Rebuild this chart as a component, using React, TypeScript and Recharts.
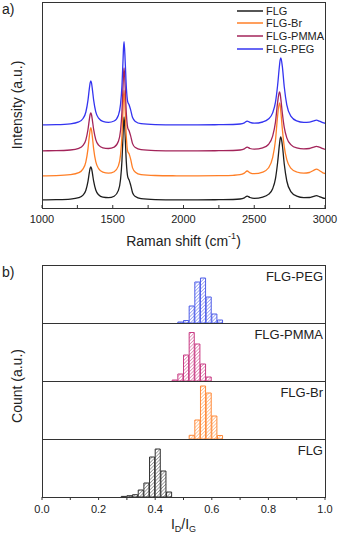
import React from 'react';
import { LineChart, Line, XAxis, YAxis, BarChart, Bar } from 'recharts';

// ---------- Panel a: Raman spectra ----------
const ramanShift = [1000, 1100, 1200, 1260, 1290, 1310, 1325, 1335, 1340, 1345, 1350, 1355, 1365, 1380, 1400, 1430, 1470, 1510, 1540, 1555, 1565, 1572, 1576, 1580, 1588, 1596, 1606, 1616, 1626, 1640, 1660, 1700, 1800, 1950, 2100, 2250, 2350, 2400, 2430, 2450, 2470, 2500, 2560, 2600, 2630, 2650, 2665, 2678, 2683, 2688, 2698, 2712, 2730, 2760, 2800, 2850, 2890, 2920, 2940, 2960, 2985, 3000];

const flgSpectrum = [8.1, 8.3, 8.9, 10.3, 12.9, 17.8, 26.7, 35.8, 39.6, 41.2, 39.6, 35.8, 26.8, 18.0, 13.2, 10.8, 10.3, 11.8, 17.6, 28.5, 47.0, 70.4, 84.5, 91.2, 71.1, 45.7, 31.1, 27.9, 23.3, 15.3, 11.4, 9.3, 8.4, 8.1, 8.1, 8.3, 8.5, 9.0, 10.2, 11.8, 10.5, 9.7, 10.9, 13.6, 19.3, 29.4, 45.2, 63.4, 69.1, 71.0, 63.5, 44.0, 27.0, 16.2, 11.9, 10.4, 10.5, 11.7, 12.3, 11.4, 10.0, 9.6];
const flgBrSpectrum = [32.2, 32.4, 33.3, 35.3, 39.1, 46.2, 59.2, 72.4, 77.9, 80.3, 77.9, 72.4, 59.2, 46.3, 39.4, 35.9, 34.8, 36.3, 42.1, 53.1, 72.2, 96.2, 110.6, 117.5, 97.0, 71.0, 56.5, 54.0, 49.1, 40.1, 35.8, 33.4, 32.5, 32.2, 32.1, 32.3, 32.7, 33.3, 34.9, 37.0, 35.2, 34.3, 35.9, 40.0, 50.3, 67.8, 91.9, 105.0, 102.8, 96.2, 79.7, 61.4, 48.3, 39.6, 36.0, 34.8, 35.5, 37.7, 38.8, 37.5, 35.2, 34.5];
const flgPmmaSpectrum = [57.2, 57.3, 58.0, 59.7, 62.6, 68.2, 78.5, 88.9, 93.3, 95.2, 93.3, 88.9, 78.6, 68.4, 62.9, 60.2, 59.5, 60.9, 66.7, 77.5, 96.1, 119.4, 133.5, 140.2, 120.1, 94.7, 80.2, 77.0, 72.4, 64.4, 60.4, 58.3, 57.4, 57.1, 57.1, 57.3, 57.5, 58.0, 59.2, 60.8, 59.5, 58.8, 60.2, 63.5, 71.8, 85.9, 105.4, 116.0, 114.2, 108.9, 95.5, 80.7, 70.1, 63.1, 60.1, 59.2, 59.5, 60.9, 61.6, 60.8, 59.3, 58.7];
const flgPegSpectrum = [83.2, 83.4, 84.2, 86.1, 89.5, 96.0, 107.8, 119.9, 125.0, 127.2, 125.0, 119.9, 107.9, 96.2, 89.8, 86.6, 85.7, 87.0, 92.8, 103.6, 122.1, 145.5, 159.6, 166.3, 146.2, 120.8, 106.2, 103.0, 98.4, 90.4, 86.6, 84.3, 83.4, 83.1, 83.1, 83.3, 83.5, 84.0, 85.2, 86.9, 85.6, 84.8, 86.0, 89.0, 95.1, 105.8, 122.5, 142.0, 148.0, 150.0, 142.1, 121.3, 103.2, 91.7, 87.1, 85.6, 85.8, 87.1, 87.8, 86.9, 85.4, 84.7];

const seriesNames = ['FLG', 'FLG-Br', 'FLG-PMMA', 'FLG-PEG'];
const seriesColors = ['#1e1e1e', '#ff7f27', '#a3245a', '#3434f0'];
const ramanTicks = [1000, 1250, 1500, 1750, 2000, 2250, 2500, 2750, 3000];

const spectrumRows = ramanShift.map((x, i) => ({
  x,
  'FLG': flgSpectrum[i],
  'FLG-Br': flgBrSpectrum[i],
  'FLG-PMMA': flgPmmaSpectrum[i],
  'FLG-PEG': flgPegSpectrum[i],
}));

// ---------- Panel b: I_D/I_G histograms ----------
const pegBins = [0.49, 0.51, 0.53, 0.55, 0.57, 0.59, 0.61, 0.63];
const pegCounts = [1, 2.5, 17, 41, 45, 26, 9, 3];
const pmmaBins = [0.47, 0.49, 0.51, 0.53, 0.55, 0.57, 0.59];
const pmmaCounts = [1, 7, 26, 48.5, 37, 17, 4];
const brBins = [0.53, 0.55, 0.57, 0.59, 0.61, 0.63];
const brCounts = [3.7, 19, 53, 46, 23, 3.5];
const flgBins = [0.29, 0.31, 0.33, 0.35, 0.37, 0.39, 0.41, 0.43, 0.45];
const flgCounts = [0.6, 1.3, 2.3, 7, 14, 40, 48, 26, 5];
const ratioTicks = [0, 0.1, 0.2, 0.3, 0.4, 0.5, 0.6, 0.7, 0.8, 0.9, 1.0];

const FONT = '"Liberation Sans", Arial, Helvetica, sans-serif';
const TEXT = '#222';

type HistProps = {
  id: string;
  bins: number[];
  counts: number[];
  stroke: string;
  hatch: string;
  label: string;
  top: number;
  showAxis: boolean;
};

function Hist({ id, bins, counts, stroke, hatch, label, top, showAxis }: HistProps) {
  const rows = bins.map((b, i) => ({ x: b, y: counts[i] }));
  const axisH = showAxis ? 30 : 4;
  return (
    <div style={{ position: 'absolute', left: 0, top, width: 339 }}>
      <BarChart width={339} height={58 + axisH} data={rows} margin={{ top: 0, right: 14, bottom: 0, left: 0 }} barCategoryGap={0} barGap={0}>
        <defs>
          <pattern id={id} patternUnits="userSpaceOnUse" width="2.4" height="2.4" patternTransform="rotate(45)">
            <rect width="2.4" height="2.4" fill="#ffffff" />
            <line x1="0" y1="0" x2="0" y2="2.4" stroke={hatch} strokeWidth="1.1" />
          </pattern>
        </defs>
        <XAxis
          dataKey="x"
          type="number"
          domain={[0, 1]}
          ticks={ratioTicks}
          interval={0}
          height={axisH}
          axisLine={false}
          tickSize={3}
          tickMargin={5}
          tickLine={{ stroke: '#333' }}
          tick={showAxis ? { fontSize: 11, fill: TEXT, fontFamily: FONT } : false}
          tickFormatter={(v: number) => (Math.round(v * 10) % 2 === 0 ? v.toFixed(1) : '')}
          allowDataOverflow
        />
        <YAxis width={42} domain={[0, 58]} tick={false} tickLine={false} axisLine={false} allowDataOverflow />
        <Bar dataKey="y" fill={`url(#${id})`} stroke={stroke} strokeWidth={1} barSize={5.66} isAnimationActive={false} />
      </BarChart>
      <div style={{ position: 'absolute', left: 42, top: 0, width: 284, height: 59, border: '1px solid #333', boxSizing: 'border-box', pointerEvents: 'none' }} />
      <div style={{ position: 'absolute', left: 0, width: 323, top: 4, textAlign: 'right', fontSize: 13, color: TEXT, whiteSpace: 'nowrap', lineHeight: '15px' }}>
        {label}
      </div>
    </div>
  );
}

export default function App() {
  return (
    <div style={{ position: 'absolute', left: 0, top: 0, width: 339, height: 536, background: '#fff', fontFamily: FONT, color: TEXT }}>
      {/* Panel a */}
      <div style={{ position: 'absolute', left: 0, top: 0, width: 339 }}>
        <LineChart width={339} height={250} data={spectrumRows} margin={{ top: 2, right: 14, bottom: 0, left: 0 }}>
          <XAxis
            dataKey="x"
            type="number"
            domain={[1000, 3000]}
            ticks={ramanTicks}
            interval={0}
            height={42}
            axisLine={false}
            tickSize={-3}
            tickMargin={10}
            tickLine={{ stroke: '#333' }}
            tick={{ fontSize: 11, fill: TEXT, fontFamily: FONT }}
            tickFormatter={(v: number) => (v % 500 === 0 ? String(v) : '')}
            allowDataOverflow
          />
          <YAxis width={42} domain={[0, 206]} tick={false} tickLine={false} axisLine={false} allowDataOverflow />
          {seriesNames.map((n, i) => (
            <Line key={n} dataKey={n} type="monotone" stroke={seriesColors[i]} strokeWidth={1.3} dot={false} isAnimationActive={false} />
          ))}
        </LineChart>
        <div style={{ position: 'absolute', left: 42, top: 2, width: 284, height: 207, border: '1px solid #333', boxSizing: 'border-box', pointerEvents: 'none' }} />
        {/* Legend */}
        {seriesNames.map((n, i) => (
          <div key={n} style={{ position: 'absolute', left: 237, top: 4 + i * 12.8, height: 13, display: 'flex', alignItems: 'center', fontSize: 11, whiteSpace: 'nowrap' }}>
            <svg width={26} height={4} style={{ marginRight: 3 }}>
              <line x1={0} y1={2} x2={26} y2={2} stroke={seriesColors[i]} strokeWidth={1.5} />
            </svg>
            <span>{n}</span>
          </div>
        ))}
        <div style={{ position: 'absolute', left: 2, top: 1, fontSize: 14 }}>a)</div>
        <div style={{ position: 'absolute', left: 17, top: 105, transform: 'translate(-50%, -50%) rotate(-90deg)', fontSize: 14, whiteSpace: 'nowrap' }}>Intensity (a.u.)</div>
        <div style={{ position: 'absolute', left: 183.5, top: 241, transform: 'translate(-50%, -50%)', fontSize: 14, whiteSpace: 'nowrap' }}>
          Raman shift (cm<sup style={{ fontSize: 9, verticalAlign: 'top', position: 'relative', top: -2 }}>-1</sup>)
        </div>
      </div>

      {/* Panel b */}
      <Hist id="hatch-peg" bins={pegBins} counts={pegCounts} stroke="#4f5ee8" hatch="#6d7bf0" label="FLG-PEG" top={265} showAxis={false} />
      <Hist id="hatch-pmma" bins={pmmaBins} counts={pmmaCounts} stroke="#c83c84" hatch="#d65a98" label="FLG-PMMA" top={323} showAxis={false} />
      <Hist id="hatch-br" bins={brBins} counts={brCounts} stroke="#ff8a3a" hatch="#ffa25e" label="FLG-Br" top={381} showAxis={false} />
      <Hist id="hatch-flg" bins={flgBins} counts={flgCounts} stroke="#333333" hatch="#666666" label="FLG" top={439} showAxis={true} />

      <div style={{ position: 'absolute', left: 2, top: 264, fontSize: 14 }}>b)</div>
      <div style={{ position: 'absolute', left: 17, top: 386, transform: 'translate(-50%, -50%) rotate(-90deg)', fontSize: 14, whiteSpace: 'nowrap' }}>Count (a.u.)</div>
      <div style={{ position: 'absolute', left: 183.5, top: 525, transform: 'translate(-50%, -50%)', fontSize: 14, whiteSpace: 'nowrap' }}>
        I<sub style={{ fontSize: 9 }}>D</sub>/I<sub style={{ fontSize: 9 }}>G</sub>
      </div>
    </div>
  );
}
